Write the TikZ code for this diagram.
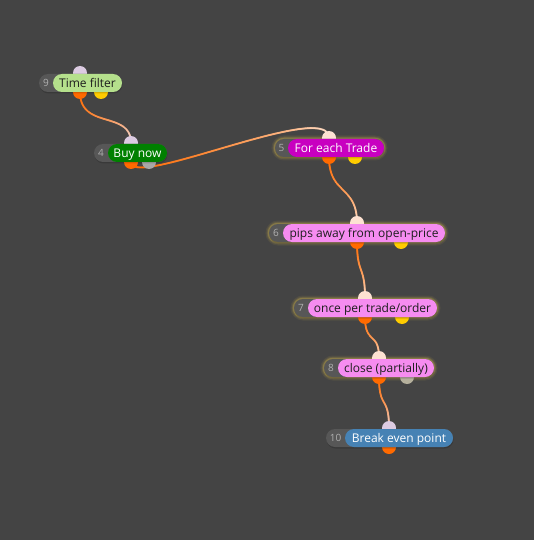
\documentclass[tikz,border=0pt]{standalone}
\usepackage{fontspec}
\setmainfont{Open Sans}
\usetikzlibrary{decorations.markings,backgrounds}
\definecolor{bgc}{HTML}{444444}
\definecolor{pillgray}{HTML}{575757}
\definecolor{numgray}{HTML}{B0B0B0}
\definecolor{tfgreen}{HTML}{B5E08C}
\definecolor{buygreen}{HTML}{008000}
\definecolor{magentac}{HTML}{C800C0}
\definecolor{pinkc}{HTML}{F68CF0}
\definecolor{bluec}{HTML}{4682B4}
\definecolor{darktext}{HTML}{1E1E1E}
\definecolor{lavc}{HTML}{DCCBE2}
\definecolor{peachc}{HTML}{FDE2D2}
\definecolor{orangec}{HTML}{FF6A00}
\definecolor{yellowc}{HTML}{FFCC00}
\definecolor{grayport}{HTML}{A8A8A8}
\definecolor{beigeport}{HTML}{B5B09C}
\definecolor{glowc}{HTML}{FFDC50}
\definecolor{edgelav}{HTML}{F0E8F2}
\definecolor{edgepeach}{HTML}{FEF0E8}
\tikzset{
  port/.style={circle,inner sep=0pt,minimum size=14pt,draw=none},
  numstyle/.style={text=numgray,font=\fontsize{10}{12}\selectfont,inner sep=0pt,text height=7.4pt,text depth=0pt},
  labstyle/.style={font=\fontsize{12}{14}\selectfont,inner sep=0pt,text height=9.2pt,text depth=0pt},
  gradedge/.style={decoration={markings,
    mark=between positions 0 and 1 step 0.7pt with {%
      \pgfmathsetmacro\gr{\pgfkeysvalueof{/pgf/decoration/mark info/distance from start}/\pgfdecoratedpathlength}%
      \pgfmathsetmacro\gp{100*(max(1-\gr,0.0001))^0.6}%
      \fill[orangec!\gp!#1] (0,0) circle (1.05pt);}},
    decorate}
}
\newcommand\flowbox[9]{%
  \fill[black,opacity=0.15,rounded corners=9pt] ({#3+0.5},{#6+1.5}) rectangle ({#5+0.5},{#6+19.5});
  \fill[pillgray,rounded corners=9pt] (#3,#6) rectangle (#5,{#6+18});
  \fill[#7,rounded corners=9pt] (#4,#6) rectangle (#5,{#6+18});
  \node[numstyle] (#1num) at ({(#3+#4)/2},{#6+9}) {#2};
  \node[labstyle,text=#8] (#1) at ({(#4+#5)/2},{#6+9}) {#9};
}
\newcommand\glowbox[3]{%
  \foreach \w/\o in {7/0.07,4.5/0.12,2.5/0.22}
    \draw[glowc,line width=\w pt,opacity=\o,rounded corners=9pt] (#1,#2) rectangle (#3,{#2+18});
}
\begin{document}
\begin{tikzpicture}[x=1pt,y=-1pt]
\useasboundingbox (0,0) rectangle (534,540);

% glows
\glowbox{275}{139}{384}
\glowbox{269}{224}{445}
\glowbox{294}{299}{437}
\glowbox{324}{359}{434}

% ports
\node[port,fill=lavc] (p9in) at (80,73) {};
\node[port,fill=orangec] (p9out) at (80,92) {};
\node[port,fill=yellowc] (p9y) at (101,92) {};

\node[port,fill=lavc] (p4in) at (131,143) {};
\node[port,fill=orangec] (p4out) at (131,162) {};
\node[port,fill=grayport] (p4g) at (149,162) {};

\node[port,fill=peachc] (p5in) at (329,138) {};
\node[port,fill=orangec] (p5out) at (329,157) {};
\node[port,fill=yellowc] (p5y) at (355,157) {};

\node[port,fill=peachc] (p6in) at (357,223) {};
\node[port,fill=orangec] (p6out) at (357,242) {};
\node[port,fill=yellowc] (p6y) at (401,242) {};

\node[port,fill=peachc] (p7in) at (365,298) {};
\node[port,fill=orangec] (p7out) at (365,317) {};
\node[port,fill=yellowc] (p7y) at (402,317) {};

\node[port,fill=peachc] (p8in) at (379,358) {};
\node[port,fill=orangec] (p8out) at (379,377) {};
\node[port,fill=beigeport] (p8g) at (407,377) {};

\node[port,fill=lavc] (p10in) at (389,428) {};
\node[port,fill=orangec] (p10out) at (389,447) {};

% boxes
\flowbox{n9}{9}{39}{53}{122}{74}{tfgreen}{darktext}{Time filter}
\flowbox{n4}{4}{94}{108}{167}{144}{buygreen}{white}{Buy now}
\flowbox{n5}{5}{275}{288}{384}{139}{magentac}{white}{For each Trade}
\flowbox{n6}{6}{269}{283}{445}{224}{pinkc}{darktext}{pips away from open-price}
\flowbox{n7}{7}{294}{308}{437}{299}{pinkc}{darktext}{once per trade/order}
\flowbox{n8}{8}{324}{338}{434}{359}{pinkc}{darktext}{close (partially)}
\flowbox{n10}{10}{326}{345}{453}{429}{bluec}{white}{Break even point}

% connectors and background
\begin{pgfonlayer}{background}
\fill[bgc] (0,0) rectangle (534,540);
\path[gradedge=edgelav] (p9out.center) .. controls +(0,38) and +(0,-33) .. (p4in.center);
\path[gradedge=edgepeach] (p4out.center) .. controls +(0,28) and +(0,-39) .. (p5in.center);
\path[gradedge=edgepeach] (p5out.center) .. controls +(0,38) and +(0,-38) .. (p6in.center);
\path[gradedge=edgepeach] (p6out.center) .. controls +(0,33) and +(0,-33) .. (p7in.center);
\path[gradedge=edgepeach] (p7out.center) .. controls +(0,28) and +(0,-27) .. (p8in.center);
\path[gradedge=edgelav] (p8out.center) .. controls +(0,33) and +(0,-33) .. (p10in.center);
\end{pgfonlayer}
\end{tikzpicture}
\end{document}
